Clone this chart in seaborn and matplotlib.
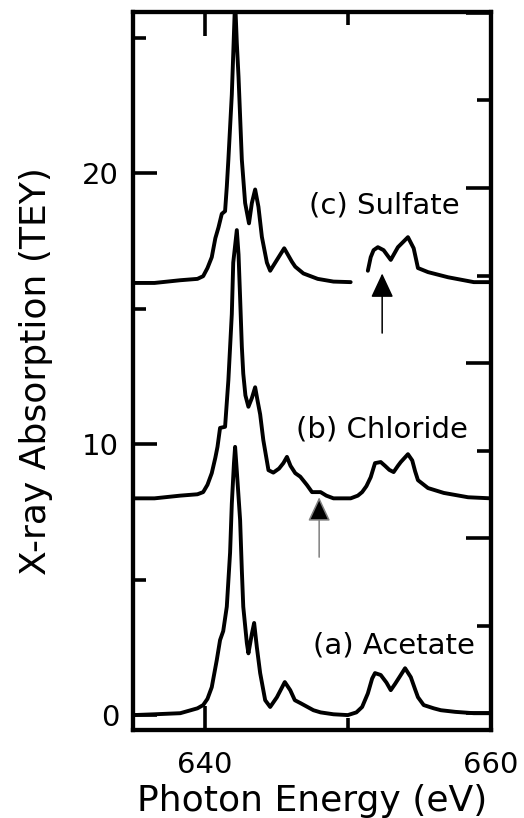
import numpy as np
import pandas as pd
import matplotlib
matplotlib.use("Agg")
import matplotlib.pyplot as plt
import seaborn as sns

# =============================
# Data (eV, TEY with vertical offsets)
# =============================
acetate_e = [635.0, 636.5, 638.3, 639.5, 639.9, 640.2, 640.5, 640.85, 641.08, 641.3,
             641.55, 641.78, 641.9, 642.05, 642.13, 642.25, 642.48, 642.6, 642.7, 642.95,
             643.06, 643.3, 643.46, 643.65, 643.88, 644.23, 644.58, 645.05, 645.6, 645.98,
             646.3, 646.7, 647.6, 648.1, 649.0, 650.0, 650.6, 651.0, 651.4, 651.7,
             651.9, 652.3, 652.7, 653.0, 653.3, 653.7, 654.0, 654.4, 654.7, 654.9,
             655.3, 656.0, 656.5, 657.5, 658.8, 660.0]
acetate_y = [0.0, 0.03, 0.07, 0.25, 0.37, 0.6, 1.03, 2.03, 2.77, 3.1,
             4.0, 6.0, 7.8, 9.3, 9.9, 9.0, 7.2, 5.35, 4.0, 2.66,
             2.28, 3.0, 3.4, 2.5, 1.55, 0.55, 0.3, 0.66, 1.22, 0.92,
             0.55, 0.44, 0.18, 0.1, 0.03, 0.0, 0.1, 0.3, 0.8, 1.35,
             1.55, 1.48, 1.2, 0.92, 1.15, 1.48, 1.73, 1.4, 0.95, 0.66,
             0.37, 0.25, 0.18, 0.12, 0.07, 0.07]

chloride_e = [635.0, 636.5, 638.3, 639.5, 639.9, 640.2, 640.5, 640.75, 640.9, 641.08,
              641.43, 641.66, 641.9, 642.0, 642.25, 642.37, 642.48, 642.6, 642.7, 642.85,
              643.06, 643.3, 643.53, 643.7, 643.88, 644.1, 644.46, 644.8, 645.2, 645.5,
              645.75, 646.0, 646.33, 646.68, 647.15, 647.5, 648.1, 648.5, 649.0, 650.2,
              650.7, 651.0, 651.3, 651.6, 651.9, 652.3, 652.6, 652.9, 653.2, 653.5,
              653.7, 654.2, 654.5, 654.7, 654.9, 655.6, 656.7, 658.4, 660.0]
chloride_y = [8.0, 8.0, 8.1, 8.15, 8.23, 8.5, 8.93, 9.5, 9.9, 10.6,
              10.64, 12.36, 14.8, 16.7, 17.9, 17.0, 15.4, 13.6, 12.6, 11.8,
              11.38, 11.7, 12.1, 11.6, 11.1, 10.15, 9.04, 8.95, 9.1, 9.3,
              9.53, 9.2, 8.93, 8.8, 8.49, 8.23, 8.23, 8.1, 8.0, 8.0,
              8.1, 8.23, 8.45, 8.78, 9.3, 9.34, 9.2, 9.05, 8.97, 9.2,
              9.34, 9.63, 9.4, 9.0, 8.67, 8.38, 8.2, 8.04, 8.0]

# sulfate trace has a break near 651 eV in the original
sulfate_e = [635.0, 636.5, 638.3, 639.5, 639.9, 640.2, 640.5, 640.75, 640.97, 641.2,
             641.43, 641.55, 641.66, 641.9, 642.0, 642.13, 642.25, 642.37, 642.6, 642.83,
             643.1, 643.3, 643.53, 643.76, 644.0, 644.35, 644.58, 645.05, 645.56, 646.1,
             646.33, 646.9, 647.9, 649.0, 650.2, 650.8,
             651.4, 651.6, 651.8, 652.1, 652.5, 653.0, 653.5, 654.2, 654.6, 654.9,
             655.6, 657.0, 658.8, 660.0]
sulfate_y = [15.95, 15.95, 16.05, 16.1, 16.2, 16.5, 16.9, 17.6, 18.0, 18.5,
             18.6, 19.5, 20.5, 22.9, 24.4, 26.4, 24.8, 23.55, 20.5, 18.9,
             18.15, 18.9, 19.4, 18.76, 17.65, 16.7, 16.4, 16.8, 17.23, 16.73,
             16.55, 16.3, 16.1, 16.0, 15.98, np.nan,
             16.4, 16.9, 17.16, 17.27, 17.16, 16.8, 17.27, 17.64, 17.23, 16.5,
             16.35, 16.16, 15.98, 15.98]

labels = ["(a) Acetate", "(b) Chloride", "(c) Sulfate"]
label_x = [658.85, 658.4, 657.8]
label_y = [2.29, 10.26, 18.52]

# arrows: (energy, tip, tail)
arrow_e = [648.0, 652.4]
arrow_tip = [8.04, 16.3]
arrow_tail = [5.83, 14.1]
arrow_shaft = ["#808080", "black"]

# right-hand axis ticks (in left-axis units)
right_major = [0.07, 6.53, 12.99, 19.45, 25.9]
right_minor = [3.3, 9.76, 16.2, 22.7]

# =============================
# Build long table, split sulfate at the gap
# =============================
frames = []
for name, e, y in [("a", acetate_e, acetate_y), ("b", chloride_e, chloride_y),
                   ("c", sulfate_e, sulfate_y)]:
    d = pd.DataFrame({"energy": e, "tey": y})
    d["seg"] = name + d["tey"].isna().cumsum().astype(str)
    frames.append(d.dropna())
df = pd.concat(frames, ignore_index=True)

# =============================
# Plot
# =============================
sns.set_theme(style="ticks")
plt.rcParams["font.family"] = ["DejaVu Sans"]
plt.rcParams.update({"text.color": "black", "axes.labelcolor": "black",
                     "xtick.color": "black", "ytick.color": "black"})

fig = plt.figure(figsize=(5.24, 8.18), dpi=100)
ax = fig.add_axes([133 / 524, 1 - 730 / 818, 358 / 524, 718 / 818])

sns.lineplot(data=df, x="energy", y="tey", units="seg", estimator=None,
             sort=False, color="black", linewidth=2.8, ax=ax)

ax.set_xlim(635, 660)
ax.set_ylim(-0.55, 25.95)
ax.set_xticks([640, 660])
ax.set_xticks([650], minor=True)
ax.set_yticks([0, 10, 20])
ax.set_yticks([5, 15, 25], minor=True)
ax.tick_params(which="both", direction="in", top=True, right=False, width=2.6,
               labelsize=21, colors="black")
ax.tick_params(which="major", length=17)
ax.tick_params(which="minor", length=9)
ax.tick_params(axis="x", pad=15)
ax.tick_params(axis="y", pad=10)

ax2 = ax.twinx()
ax2.set_ylim(ax.get_ylim())
ax2.set_yticks(right_major)
ax2.set_yticks(right_minor, minor=True)
ax2.tick_params(which="both", direction="in", width=2.6, labelright=False)
ax2.tick_params(which="major", length=18)
ax2.tick_params(which="minor", length=10)

for a in (ax, ax2):
    for s in a.spines.values():
        s.set_linewidth(3)
        s.set_color("black")

ax.set_xlabel("Photon Energy (eV)", fontsize=26, labelpad=4, color="black")
ax.set_ylabel("X-ray Absorption (TEY)", fontsize=26, labelpad=21, color="black")

for t, x, y in zip(labels, label_x, label_y):
    ax.text(x, y, t, fontsize=21, ha="right", va="baseline", color="black")

for e, tip, tail, c in zip(arrow_e, arrow_tip, arrow_tail, arrow_shaft):
    ax.annotate("", xy=(e, tip), xytext=(e, tail),
                arrowprops=dict(arrowstyle="-|>,head_length=1.5,head_width=0.7",
                                mutation_scale=10, lw=1.1, ec=c, fc="black",
                                shrinkA=0, shrinkB=0))

fig.savefig("out.png", dpi=100)
